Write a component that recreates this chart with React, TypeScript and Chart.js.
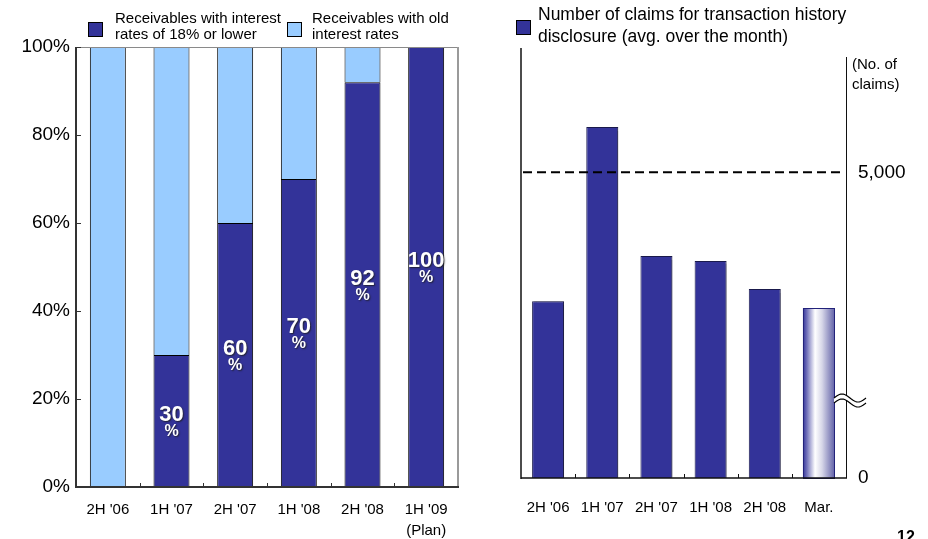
import React, { useEffect, useRef } from "react";
import { Chart, registerables } from "chart.js";

Chart.register(...registerables);

const FONT = 'Arial, "Liberation Sans", Helvetica, sans-serif';

// Share of receivables by interest-rate type (%)
const shareCategories: (string | string[])[] = ["2H '06", "1H '07", "2H '07", "1H '08", "2H '08", ["1H '09", "(Plan)"]];
const lowRateShare = [0, 30, 60, 70, 92, 100];
const oldRateShare = [100, 70, 40, 30, 8, 0];
const shareTicks = [0, 20, 40, 60, 80, 100];

// Monthly average number of transaction-history disclosure claims
const claimCategories = ["2H '06", "1H '07", "2H '07", "1H '08", "2H '08", "Mar."];
const claimCounts = [2890, 5740, 3630, 3550, 3090, 2780];
const claimTicks = [0, 5000];
const claimReference = 5000;

const NAVY = "#333399";
const SKY = "#99ccff";

const line = (ctx: CanvasRenderingContext2D, x1: number, y1: number, x2: number, y2: number) => {
  ctx.beginPath();
  ctx.moveTo(x1, y1);
  ctx.lineTo(x2, y2);
  ctx.stroke();
};

const shareFrame = {
  id: "shareFrame",
  afterDatasetsDraw(chart: any) {
    const { ctx, chartArea: a, scales } = chart;
    ctx.save();
    ctx.strokeStyle = "#8a8a8a";
    ctx.lineWidth = 1;
    line(ctx, a.left, a.top + 0.5, a.right, a.top + 0.5);
    ctx.strokeStyle = "#9a9a9a";
    ctx.lineWidth = 2;
    line(ctx, a.right, a.top, a.right, a.bottom);
    ctx.strokeStyle = "#333";
    ctx.lineWidth = 2;
    line(ctx, a.left, a.top, a.left, a.bottom + 1);
    line(ctx, a.left, a.bottom, a.right + 1, a.bottom);
    ctx.lineWidth = 1;
    shareTicks.forEach((t) => {
      const py = Math.round(scales.y.getPixelForValue(t)) + 0.5;
      line(ctx, a.left, py, a.left + 5, py);
    });
    for (let i = 1; i < shareCategories.length; i++) {
      const px = Math.round((scales.x.getPixelForValue(i - 1) + scales.x.getPixelForValue(i)) / 2) + 0.5;
      line(ctx, px, a.bottom, px, a.bottom - 4);
    }
    ctx.restore();
  },
};

const shareLabels = {
  id: "shareLabels",
  afterDatasetsDraw(chart: any) {
    const { ctx, scales } = chart;
    const meta = chart.getDatasetMeta(0);
    ctx.save();
    ctx.fillStyle = "#ffffff";
    ctx.textAlign = "center";
    ctx.textBaseline = "middle";
    ctx.shadowColor = "rgba(30,30,30,0.85)";
    ctx.shadowOffsetX = 1;
    ctx.shadowOffsetY = 1;
    ctx.shadowBlur = 1.5;
    lowRateShare.forEach((v, i) => {
      if (!v) return;
      const el = meta.data[i];
      const mid = scales.y.getPixelForValue(v / 2);
      ctx.font = `bold 22px ${FONT}`;
      ctx.fillText(String(v), el.x, mid - 6);
      ctx.font = `bold 16px ${FONT}`;
      ctx.fillText("%", el.x, mid + 11);
    });
    ctx.restore();
  },
};

const claimDecor = {
  id: "claimDecor",
  beforeDatasetsDraw(chart: any) {
    const ctx = chart.ctx;
    ctx.save();
    ctx.shadowColor = "rgba(0,0,0,0.28)";
    ctx.shadowOffsetX = 2;
    ctx.shadowOffsetY = 0;
    ctx.shadowBlur = 1;
  },
  afterDatasetsDraw(chart: any) {
    const { ctx, chartArea: a, scales } = chart;
    ctx.restore();
    ctx.save();

    // latest month bar with a cylindrical shading
    const meta = chart.getDatasetMeta(0);
    const last = meta.data[claimCounts.length - 1];
    const p = last.getProps(["x", "y", "base", "width"], true);
    const x0 = p.x - p.width / 2;
    const g = ctx.createLinearGradient(x0, 0, x0 + p.width, 0);
    g.addColorStop(0, "#33339a");
    g.addColorStop(0.12, "#6f6fb8");
    g.addColorStop(0.38, "#ffffff");
    g.addColorStop(0.6, "#d6d6e8");
    g.addColorStop(1, "#5f5fa6");
    ctx.fillStyle = g;
    ctx.fillRect(x0, p.y, p.width, p.base - p.y);
    ctx.strokeStyle = "#22227a";
    ctx.lineWidth = 1;
    ctx.strokeRect(Math.round(x0) + 0.5, Math.round(p.y) + 0.5, Math.round(p.width) - 1, p.base - p.y);

    // reference line
    const ry = scales.y.getPixelForValue(claimReference);
    ctx.strokeStyle = "#000";
    ctx.lineWidth = 2;
    ctx.setLineDash([9, 5]);
    line(ctx, a.left + 2, ry, a.right - 2, ry);
    ctx.setLineDash([]);

    // axes
    ctx.strokeStyle = "#111";
    ctx.lineWidth = 1.5;
    line(ctx, a.left, a.top - 2, a.left, a.bottom + 1);
    ctx.lineWidth = 1;
    line(ctx, a.right + 0.5, a.top + 7, a.right + 0.5, a.bottom);
    ctx.lineWidth = 1.5;
    line(ctx, a.left, a.bottom, a.right + 1, a.bottom);
    ctx.lineWidth = 1;
    for (let i = 1; i < claimCategories.length; i++) {
      const px = Math.round((scales.x.getPixelForValue(i - 1) + scales.x.getPixelForValue(i)) / 2) + 0.5;
      line(ctx, px, a.bottom, px, a.bottom - 4);
    }

    // axis break mark
    const bx = a.right - 12;
    const bw = 32;
    const by = a.bottom - 80;
    const amp = 4;
    const gap = 5;
    const wave = (t: number) => -amp * Math.sin(2 * Math.PI * t);
    const steps = 24;
    ctx.beginPath();
    for (let s = 0; s <= steps; s++) {
      const t = s / steps;
      const px = bx + t * bw;
      const py = by + wave(t);
      if (s === 0) ctx.moveTo(px, py);
      else ctx.lineTo(px, py);
    }
    for (let s = steps; s >= 0; s--) {
      const t = s / steps;
      ctx.lineTo(bx + t * bw, by + gap + wave(t));
    }
    ctx.closePath();
    ctx.fillStyle = "#fff";
    ctx.fill();
    ctx.strokeStyle = "#000";
    ctx.lineWidth = 1.2;
    for (const off of [0, gap]) {
      ctx.beginPath();
      for (let s = 0; s <= steps; s++) {
        const t = s / steps;
        const px = bx + t * bw;
        const py = by + off + wave(t);
        if (s === 0) ctx.moveTo(px, py);
        else ctx.lineTo(px, py);
      }
      ctx.stroke();
    }
    ctx.restore();
  },
};

function ShareChart() {
  const ref = useRef<HTMLCanvasElement>(null);
  useEffect(() => {
    if (!ref.current) return;
    const chart = new Chart(ref.current, {
      type: "bar",
      data: {
        labels: shareCategories as any,
        datasets: [
          {
            label: "Receivables with interest rates of 18% or lower",
            data: lowRateShare.map((v) => (v ? v : null)),
            backgroundColor: NAVY,
            borderColor: "#000",
            borderWidth: 1,
            categoryPercentage: 1,
            barPercentage: 0.565,
          },
          {
            label: "Receivables with old interest rates",
            data: oldRateShare.map((v) => (v ? v : null)),
            backgroundColor: SKY,
            borderColor: "#000",
            borderWidth: 1,
            categoryPercentage: 1,
            barPercentage: 0.565,
          },
        ],
      },
      options: {
        responsive: false,
        animation: false,
        devicePixelRatio: 1,
        layout: { padding: { top: 47, right: 12, left: 0, bottom: 0 } },
        plugins: { legend: { display: false }, tooltip: { enabled: false } },
        scales: {
          x: {
            stacked: true,
            grid: { display: false, drawTicks: false },
            border: { display: false },
            ticks: { color: "#000", font: { family: FONT, size: 15, lineHeight: 1.4 }, padding: 12, maxRotation: 0, autoSkip: false },
            afterFit: (s: any) => { s.height = 52; },
          },
          y: {
            stacked: true,
            min: 0,
            max: 100,
            grid: { display: false, drawTicks: false },
            border: { display: false },
            ticks: { color: "#000", font: { family: FONT, size: 19 }, padding: 6, callback: (v: any) => `${v}%` },
            afterBuildTicks: (s: any) => { s.ticks = shareTicks.map((value) => ({ value })); },
            afterFit: (s: any) => { s.width = 76; },
          },
        },
      },
      plugins: [shareFrame, shareLabels],
    });
    return () => chart.destroy();
  }, []);
  return <canvas ref={ref} width={470} height={539} style={{ position: "absolute", left: 0, top: 0, width: 470, height: 539 }} />;
}

function ClaimChart() {
  const ref = useRef<HTMLCanvasElement>(null);
  useEffect(() => {
    if (!ref.current) return;
    const n = claimCounts.length;
    const chart = new Chart(ref.current, {
      type: "bar",
      data: {
        labels: claimCategories,
        datasets: [
          {
            label: "Number of claims for transaction history disclosure (avg. over the month)",
            data: claimCounts,
            backgroundColor: claimCounts.map((_, i) => (i === n - 1 ? "rgba(0,0,0,0)" : NAVY)),
            borderColor: claimCounts.map((_, i) => (i === n - 1 ? "rgba(0,0,0,0)" : "#1a1a4d")),
            borderWidth: 1,
            categoryPercentage: 1,
            barPercentage: 0.59,
          },
        ],
      },
      options: {
        responsive: false,
        animation: false,
        devicePixelRatio: 1,
        layout: { padding: { top: 50, right: 0, left: 51, bottom: 0 } },
        plugins: { legend: { display: false }, tooltip: { enabled: false } },
        scales: {
          x: {
            grid: { display: false, drawTicks: false },
            border: { display: false },
            ticks: { color: "#000", font: { family: FONT, size: 15 }, padding: 21, maxRotation: 0, autoSkip: false },
            afterFit: (s: any) => { s.height = 61; },
          },
          y: {
            position: "right",
            min: 0,
            max: 7000,
            grid: { display: false, drawTicks: false },
            border: { display: false },
            ticks: { color: "#000", font: { family: FONT, size: 19 }, padding: 12, callback: (v: any) => Number(v).toLocaleString("en-US") },
            afterBuildTicks: (s: any) => { s.ticks = claimTicks.map((value) => ({ value })); },
            afterFit: (s: any) => { s.width = 82; },
          },
        },
      },
      plugins: [claimDecor],
    });
    return () => chart.destroy();
  }, []);
  return <canvas ref={ref} width={458} height={539} style={{ position: "absolute", left: 470, top: 0, width: 458, height: 539 }} />;
}

const swatch = (left: number, top: number, color: string, size = 15): React.CSSProperties => ({
  position: "absolute",
  left,
  top,
  width: size,
  height: size,
  boxSizing: "border-box",
  background: color,
  border: "1px solid #000",
});

export default function App() {
  const text: React.CSSProperties = { position: "absolute", fontFamily: FONT, color: "#000", whiteSpace: "nowrap" };
  return (
    <div style={{ position: "absolute", left: 0, top: 0, width: 928, height: 539, overflow: "hidden", background: "#fff" }}>
      <ShareChart />
      <ClaimChart />
      <div style={swatch(88, 22, NAVY)} />
      <div style={{ ...text, left: 115, top: 10, fontSize: 15, lineHeight: "15.5px" }}>
        Receivables with interest
        <br />
        rates of 18% or lower
      </div>
      <div style={swatch(287, 22, SKY)} />
      <div style={{ ...text, left: 312, top: 10, fontSize: 15, lineHeight: "15.5px" }}>
        Receivables with old
        <br />
        interest rates
      </div>
      <div style={swatch(516, 20, NAVY)} />
      <div style={{ ...text, left: 538, top: 3, fontSize: 17.5, lineHeight: "22px" }}>
        Number of claims for transaction history
        <br />
        disclosure (avg. over the month)
      </div>
      <div style={{ ...text, left: 852, top: 54, fontSize: 15, lineHeight: "20px" }}>
        (No. of
        <br />
        claims)
      </div>
      <div style={{ ...text, left: 897, top: 529, fontSize: 16, lineHeight: "16px", fontWeight: "bold" }}>12</div>
    </div>
  );
}
